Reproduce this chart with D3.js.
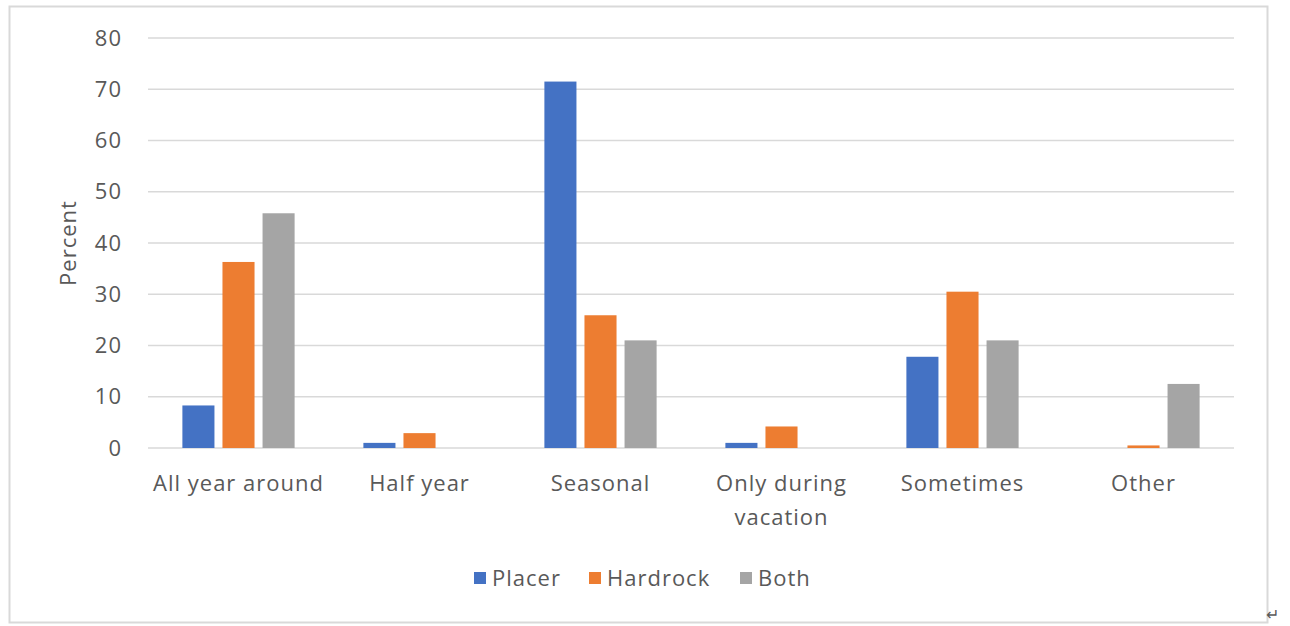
<!DOCTYPE html>
<meta charset="utf-8">
<style>
body { margin: 0; background: #fff; }
text { font-family: "Open Sans", "Liberation Sans", sans-serif; fill: #595959; letter-spacing: 1px; }
</style>
<svg width="1290" height="626"></svg>
<script src="https://d3js.org/d3.v7.min.js"></script>
<script>
var categories = [["All year around"], ["Half year"], ["Seasonal"], ["Only during", "vacation"], ["Sometimes"], ["Other"]];
var seriesNames = ["Placer", "Hardrock", "Both"];
var placer = [8.3, 1.0, 71.5, 1.0, 17.8, 0];
var hardrock = [36.3, 2.9, 25.9, 4.2, 30.5, 0.5];
var both = [45.8, 0, 21.0, 0, 21.0, 12.5];
var yTicks = [0, 10, 20, 30, 40, 50, 60, 70, 80];
var colors = ["#4472c4", "#ed7d31", "#a5a5a5"];

var series = [placer, hardrock, both];
var svg = d3.select("svg");

// outer frame
svg.append("rect")
    .attr("x", 9.5).attr("y", 6.5)
    .attr("width", 1258).attr("height", 616)
    .attr("fill", "none")
    .attr("stroke", "#d9d9d9")
    .attr("stroke-width", 2);

var plotLeft = 148, plotRight = 1234, plotTop = 38, plotBottom = 448;

var x0 = d3.scaleBand()
    .domain(d3.range(categories.length))
    .range([plotLeft, plotRight])
    .paddingInner(0.38).paddingOuter(0.19);
var x1 = d3.scaleBand()
    .domain(d3.range(seriesNames.length))
    .range([0, x0.bandwidth()])
    .paddingInner(0.2);
var y = d3.scaleLinear().domain([0, 80]).range([plotBottom, plotTop]);

// gridlines
svg.append("g")
  .selectAll("line")
  .data(yTicks)
  .enter().append("line")
    .attr("x1", plotLeft).attr("x2", plotRight)
    .attr("y1", function(d) { return y(d); })
    .attr("y2", function(d) { return y(d); })
    .attr("stroke", "#d9d9d9")
    .attr("stroke-width", 1.5);

// y tick labels
svg.append("g")
  .selectAll("text")
  .data(yTicks)
  .enter().append("text")
    .attr("x", 122)
    .attr("y", function(d) { return y(d); })
    .attr("dy", "0.35em")
    .attr("text-anchor", "end")
    .attr("font-size", 22)
    .text(function(d) { return d; });

// bars
var groups = svg.append("g")
  .selectAll("g")
  .data(categories)
  .enter().append("g")
    .attr("transform", function(d, i) { return "translate(" + x0(i) + ",0)"; });

groups.selectAll("rect")
  .data(function(d, i) { return series.map(function(s, k) { return {k: k, v: s[i]}; }); })
  .enter().append("rect")
    .filter(function(d) { return d.v > 0; })
    .attr("x", function(d) { return x1(d.k); })
    .attr("y", function(d) { return y(d.v); })
    .attr("width", x1.bandwidth())
    .attr("height", function(d) { return plotBottom - y(d.v); })
    .attr("fill", function(d) { return colors[d.k]; });

// x labels
var xl = svg.append("g")
  .selectAll("text")
  .data(categories)
  .enter().append("text")
    .attr("x", function(d, i) { return x0(i) + x0.bandwidth() / 2; })
    .attr("y", 491)
    .attr("text-anchor", "middle")
    .attr("font-size", 22);
xl.selectAll("tspan")
  .data(function(d) { return d; })
  .enter().append("tspan")
    .attr("x", function() { return d3.select(this.parentNode).attr("x"); })
    .attr("dy", function(d, j) { return j === 0 ? 0 : 34; })
    .text(function(d) { return d; });

// y axis title
svg.append("text")
    .attr("transform", "translate(76,243) rotate(-90)")
    .attr("text-anchor", "middle")
    .attr("font-size", 22)
    .text("Percent");

// legend
var legendX = [474, 589, 740];
var lg = svg.append("g")
  .selectAll("g")
  .data(seriesNames)
  .enter().append("g")
    .attr("transform", function(d, i) { return "translate(" + legendX[i] + ",578)"; });
lg.append("rect")
    .attr("x", 0).attr("y", -6)
    .attr("width", 12).attr("height", 12)
    .attr("fill", function(d, i) { return colors[i]; });
lg.append("text")
    .attr("x", 18).attr("dy", "0.35em")
    .attr("font-size", 22)
    .text(function(d) { return d; });

// paragraph mark
svg.append("text")
    .attr("x", 1266).attr("y", 620)
    .attr("font-size", 16)
    .attr("fill", "#777")
    .text("\u21B5");
</script>
